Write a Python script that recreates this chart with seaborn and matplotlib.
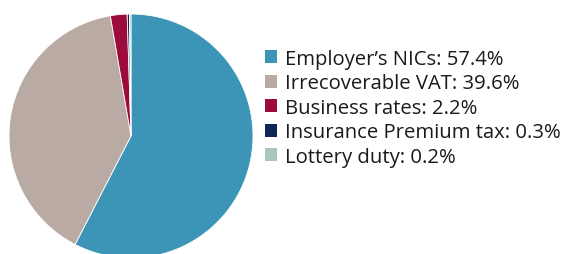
import matplotlib
matplotlib.use("Agg")
import matplotlib.pyplot as plt
import seaborn as sns
from matplotlib.patches import Patch

labels = ["Employer\u2019s NICs", "Irrecoverable VAT", "Business rates",
          "Insurance Premium tax", "Lottery duty"]
shares = [57.4, 39.6, 2.2, 0.3, 0.2]
colors = ["#3C95B6", "#B9AAA3", "#9C0B3B", "#0D2658", "#A8C8BA"]

sns.set_theme(style="white")
plt.rcParams['font.family'] = ['Open Sans', 'DejaVu Sans']

fig = plt.figure(figsize=(5.67, 2.55), dpi=100)
# pie centred at about (131, 137) px from top-left, radius ~122 px
ax = fig.add_axes([9 / 567, (118 - 122) / 255, 244 / 567, 244 / 255])
ax.pie(shares, colors=colors, startangle=90, counterclock=False,
       wedgeprops=dict(edgecolor="white", linewidth=0.6))
ax.set_xlim(-1, 1)
ax.set_ylim(-1, 1)
ax.set_aspect("equal")
ax.axis("off")

handles = [Patch(facecolor=c, edgecolor="none") for c in colors]
texts = [f"{l}: {v}%" for l, v in zip(labels, shares)]
fig.legend(handles, texts, loc="upper left", bbox_to_anchor=(265 / 567, 1 - 50 / 255),
           frameon=False, fontsize=14.6, handlelength=0.6, handleheight=0.6,
           handletextpad=0.4, labelspacing=0.22, borderaxespad=0, borderpad=0,
           labelcolor="#1a1a1a")

fig.savefig("out.png", dpi=100)
